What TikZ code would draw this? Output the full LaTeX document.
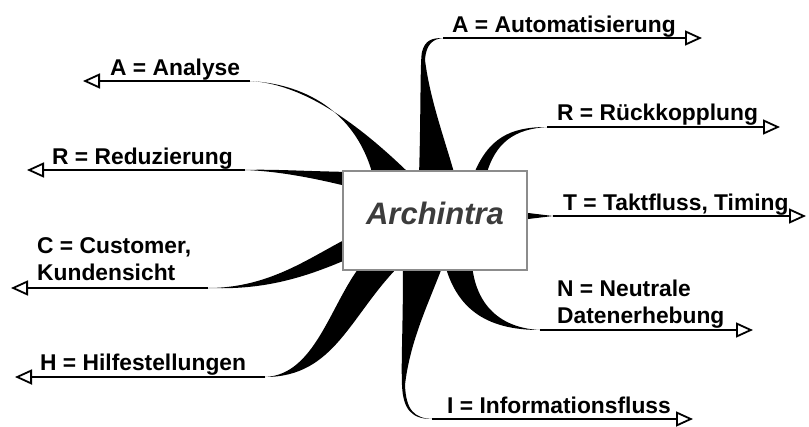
\documentclass[tikz,border=0pt]{standalone}
\usepackage{fontspec}
\setmainfont{Liberation Sans}
\usetikzlibrary{arrows.meta}
\definecolor{boxgray}{RGB}{140,140,140}
\definecolor{textgray}{RGB}{60,60,60}
\tikzset{
  branch/.style={line width=1.8pt, -{Triangle[open,length=17pt,width=15pt,line width=1.8pt]}},
  lbl/.style={anchor=base west, inner sep=0pt, align=left, font=\bfseries\fontsize{22.8}{27}\selectfont},
}
\begin{document}
\begin{tikzpicture}[x=1pt,y=-1pt]
    \useasboundingbox (0,0) rectangle (809,426);
    %ends of the branches
    \coordinate (jAna) at (250,81);  \coordinate (tAna) at (83,81);
    \coordinate (jRed) at (245,170); \coordinate (tRed) at (27,170);
    \coordinate (jCus) at (208,288); \coordinate (tCus) at (11,288);
    \coordinate (jHil) at (265,377); \coordinate (tHil) at (15,377);
    \coordinate (jAut) at (443,38);  \coordinate (tAut) at (702,38);
    \coordinate (jRue) at (547,127); \coordinate (tRue) at (780,127);
    \coordinate (jTak) at (553,216); \coordinate (tTak) at (806,216);
    \coordinate (jNeu) at (540,330); \coordinate (tNeu) at (753,330);
    \coordinate (jInf) at (432,419); \coordinate (tInf) at (693,419);
    %tapered roots
    \fill (412,176) .. controls (370,135) and (310,84) .. (jAna) .. controls (320,85) and (360,125) .. (373,176) -- cycle;
    \fill (350,172) .. controls (300,171) and (270,169) .. (jRed) .. controls (275,171) and (310,177) .. (350,187) -- cycle;
    \fill (350,237) .. controls (310,257) and (270,288) .. (jCus) .. controls (260,290) and (300,280) .. (350,258) -- cycle;
    \fill (400,265) .. controls (350,315) and (335,377) .. (jHil) .. controls (315,375) and (330,305) .. (361,265) -- cycle;
    \fill (419,176) .. controls (421,110) and (420,60) .. (422,52) .. controls (425,40) and (432,38) .. (jAut)
          .. controls (433,39) and (426,44) .. (425,60) .. controls (430,100) and (445,140) .. (455,176) -- cycle;
    \fill (473,176) .. controls (488,138) and (510,127) .. (jRue) .. controls (515,129) and (495,142) .. (486,176) -- cycle;
    \fill (520,212) -- (jTak) -- (520,220) -- cycle;
    \fill (445,265) .. controls (458,312) and (490,330) .. (jNeu) .. controls (500,328) and (476,305) .. (472,265) -- cycle;
    \fill (403,265) .. controls (403,330) and (401,360) .. (402,385) .. controls (403,410) and (412,419) .. (jInf)
          .. controls (414,418) and (406,410) .. (405,385) .. controls (410,340) and (430,300) .. (443,265) -- cycle;
    %center
    \node[draw=boxgray, line width=1.5pt, fill=white, minimum width=184pt, minimum height=99pt,
          text height=22pt, text depth=14pt, text=textgray,
          font=\bfseries\itshape\fontsize{31}{31}\selectfont] (arch) at (435,220.5) {Archintra};
    %branch lines
    \draw[branch] (jAna) -- (tAna);
    \draw[branch] (jRed) -- (tRed);
    \draw[branch] (jCus) -- (tCus);
    \draw[branch] (jHil) -- (tHil);
    \draw[branch] (jAut) -- (tAut);
    \draw[branch] (jRue) -- (tRue);
    \draw[branch] (jTak) -- (tTak);
    \draw[branch] (jNeu) -- (tNeu);
    \draw[branch] (jInf) -- (tInf);
    %labels
    \node[lbl] (ana) at (110,75) {A = Analyse};
    \node[lbl] (red) at (52,164) {R = Reduzierung};
    \node[lbl] (cus) at (37,280) {C = Customer,\\Kundensicht};
    \node[lbl] (hil) at (40,370) {H = Hilfestellungen};
    \node[lbl] (aut) at (452,32) {A = Automatisierung};
    \node[lbl] (rue) at (557,120) {R = Rückkopplung};
    \node[lbl] (tak) at (563,210) {T = Taktfluss, Timing};
    \node[lbl] (neu) at (557,323) {N = Neutrale\\Datenerhebung};
    \node[lbl] (inf) at (447,413) {I = Informationsfluss};
\end{tikzpicture}
\end{document}
